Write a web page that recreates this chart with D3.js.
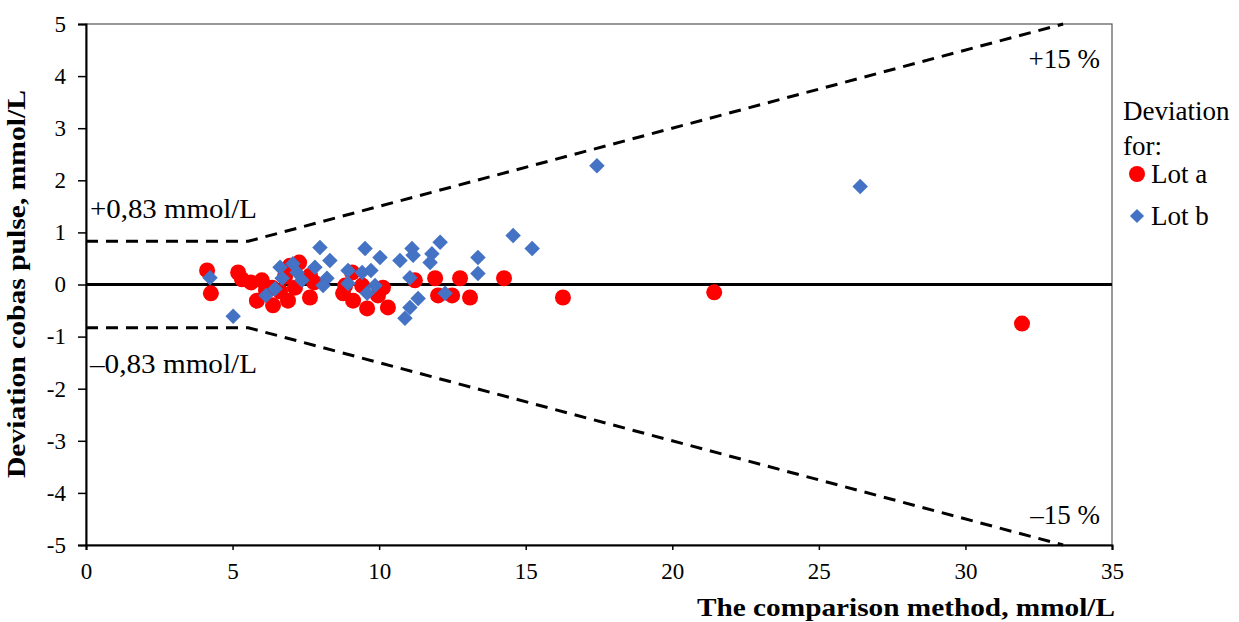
<!DOCTYPE html>
<html><head><meta charset="utf-8">
<script src="https://cdn.jsdelivr.net/npm/d3@7"></script>
<style>body{margin:0;background:#fff}svg{display:block}</style>
</head><body><svg id="c" width="1239" height="622"></svg>
<script>
const lotA_x=[4.13,4.26,5.19,5.32,5.63,5.83,6.0,6.14,6.35,6.38,6.62,6.79,6.89,6.96,7.27,7.13,7.64,7.64,7.78,8.77,8.84,9.08,9.11,9.42,9.59,9.96,10.13,10.3,11.22,11.91,12.01,12.49,12.76,13.1,14.26,16.27,21.43,31.93];
const lotA_y=[0.27,-0.17,0.23,0.10,0.04,-0.31,0.08,-0.12,-0.06,-0.40,-0.13,0.15,-0.31,0.36,0.42,-0.06,0.17,-0.25,0.04,-0.17,-0.02,0.23,-0.31,-0.02,-0.46,-0.21,-0.06,-0.44,0.08,0.12,-0.21,-0.21,0.12,-0.25,0.12,-0.25,-0.15,-0.75];
const lotB_x=[4.23,5.02,6.14,6.45,6.62,6.69,7.06,7.2,7.37,7.98,7.81,8.32,8.22,8.09,8.94,8.94,9.42,9.52,9.59,9.86,9.72,10.03,10.71,11.12,11.16,12.08,11.8,11.74,11.05,11.05,11.33,10.88,12.25,13.37,13.37,14.57,15.22,17.43,26.41];
const lotB_y=[0.13,-0.61,-0.21,-0.08,0.33,0.12,0.40,0.23,0.08,0.71,0.33,0.46,0.12,-0.02,0.27,0.02,0.23,0.69,-0.17,-0.02,0.27,0.52,0.46,0.69,0.56,0.81,0.59,0.42,0.13,-0.44,-0.27,-0.65,-0.17,0.52,0.21,0.94,0.69,2.28,1.88];
const xTicks=[0,5,10,15,20,25,30,35];
const yTicks=[5,4,3,2,1,0,-1,-2,-3,-4,-5];
const absLimit=0.83, relLimit=0.15;
const xTitle="The comparison method, mmol/L";
const yTitle="Deviation cobas pulse, mmol/L";
const FONT='"Liberation Serif", "Times New Roman", Times, serif';

const svg=d3.select("#c");
const L=86,R=1112,T=24,B=545;
const x=d3.scaleLinear().domain([0,35]).range([L,R]);
const y=d3.scaleLinear().domain([-5,5]).range([B,T]);

svg.append("rect").attr("x",L).attr("y",T).attr("width",R-L).attr("height",B-T).attr("fill","none").attr("stroke","#555").attr("stroke-width",1.2);

const ya=svg.append("g").attr("transform",`translate(${L},0)`).call(d3.axisLeft(y).tickValues(yTicks).tickSize(8).tickPadding(12).tickFormat(d=>String(d)));
const xa=svg.append("g").attr("transform",`translate(0,${B})`).call(d3.axisBottom(x).tickValues(xTicks).tickSize(5).tickPadding(13).tickFormat(d=>String(d)));
[ya,xa].forEach(g=>{g.select(".domain").attr("stroke","#000").attr("stroke-width",2);g.selectAll(".tick line").attr("stroke","#000").attr("stroke-width",1.5);g.selectAll("text").attr("fill","#000").style("font-family",FONT).style("font-size","23px");});

svg.append("line").attr("x1",x(0)).attr("x2",x(35)).attr("y1",y(0)).attr("y2",y(0)).attr("stroke","#000").attr("stroke-width",3);

const xb=absLimit/relLimit, xe=5/relLimit;
const line=d3.line().x(d=>x(d[0])).y(d=>y(d[1]));
[1,-1].forEach(s=>{
  svg.append("path").attr("d",line([[0,s*absLimit],[xb,s*absLimit],[xe,s*relLimit*xe]])).attr("fill","none").attr("stroke","#000").attr("stroke-width",3).attr("stroke-dasharray","12,8");
});

svg.append("g").selectAll("circle").data(lotA_x.map((v,i)=>[v,lotA_y[i]])).join("circle").attr("cx",d=>x(d[0])).attr("cy",d=>y(d[1])).attr("r",8).attr("fill","#FF0000");
const dia=d3.symbol().type(d3.symbolSquare).size(120);
svg.append("g").selectAll("path").data(lotB_x.map((v,i)=>[v,lotB_y[i]])).join("path").attr("d",dia).attr("transform",d=>`translate(${x(d[0])},${y(d[1])}) rotate(45)`).attr("fill","#4472C4");

const txt=(t,px,py,anchor,size)=>svg.append("text").attr("x",px).attr("y",py).attr("text-anchor",anchor).style("font-family",FONT).style("font-size",size+"px").attr("fill","#000").text(t);
txt("+0,83 mmol/L",90,218,"start",28).attr("textLength",167).attr("lengthAdjust","spacingAndGlyphs");
txt("\u20130,83 mmol/L",90,373,"start",28).attr("textLength",167).attr("lengthAdjust","spacingAndGlyphs");
txt("+15 %",1100,68,"end",27);
txt("\u201315 %",1100,524,"end",27);

svg.append("text").attr("x",1115).attr("y",616).attr("text-anchor","end").style("font-family",FONT).style("font-size","26px").attr("font-weight","bold").attr("textLength",418).attr("lengthAdjust","spacingAndGlyphs").text(xTitle);
svg.append("text").attr("transform","translate(25,478) rotate(-90)").style("font-family",FONT).style("font-size","26px").attr("font-weight","bold").attr("textLength",388).attr("lengthAdjust","spacingAndGlyphs").text(yTitle);

txt("Deviation",1123,120,"start",27);
txt("for:",1123,155,"start",27);
svg.append("circle").attr("cx",1137).attr("cy",174).attr("r",8).attr("fill","#FF0000");
txt("Lot a",1151,183,"start",27);
svg.append("path").attr("d",d3.symbol().type(d3.symbolSquare).size(100)).attr("transform","translate(1137,216) rotate(45)").attr("fill","#4472C4");
txt("Lot b",1151,225,"start",27);
</script></body></html>
